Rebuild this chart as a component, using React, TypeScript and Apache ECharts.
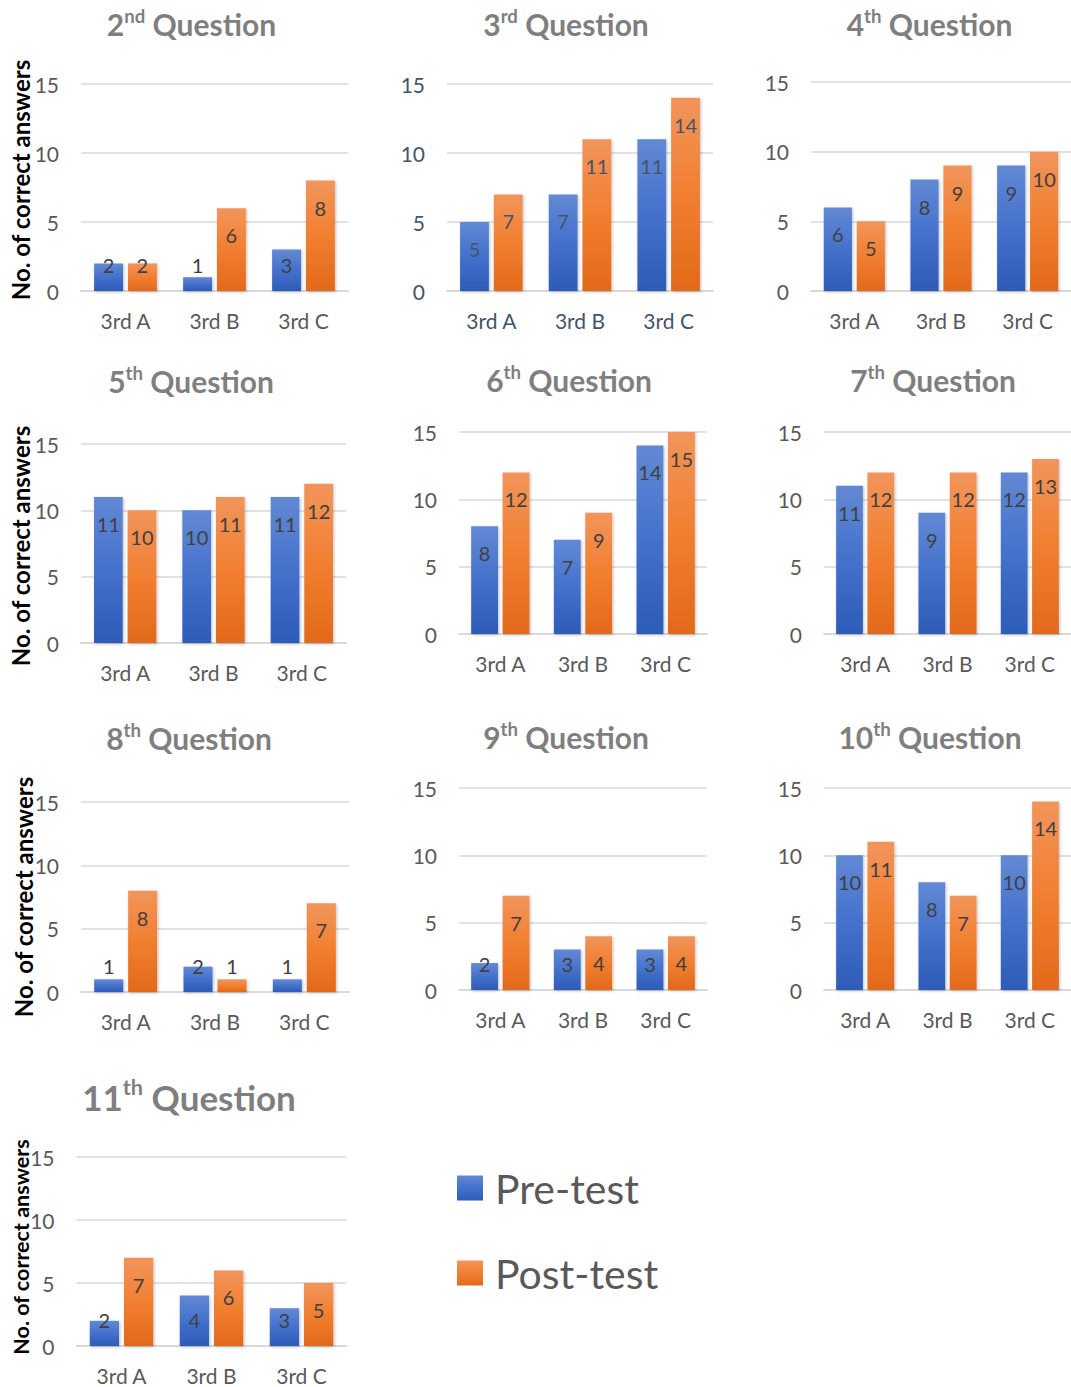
import React, { useEffect, useRef } from 'react';
import * as echarts from 'echarts';

// Classes and the two test rounds
const categories = ['3rd A', '3rd B', '3rd C'];
const seriesNames = ['Pre-test', 'Post-test'];

// Question numbers with their ordinal suffixes
const questionNumbers = [2, 3, 4, 5, 6, 7, 8, 9, 10, 11];
const ordinalSuffixes = ['nd', 'rd', 'th', 'th', 'th', 'th', 'th', 'th', 'th', 'th'];

// Correct answers per class, one row per question
const preTest = [
  [2, 1, 3],
  [5, 7, 11],
  [6, 8, 9],
  [11, 10, 11],
  [8, 7, 14],
  [11, 9, 12],
  [1, 2, 1],
  [2, 3, 3],
  [10, 8, 10],
  [2, 4, 3],
];
const postTest = [
  [2, 6, 8],
  [7, 11, 14],
  [5, 9, 10],
  [10, 11, 12],
  [12, 9, 15],
  [12, 12, 13],
  [8, 1, 7],
  [7, 4, 4],
  [11, 7, 14],
  [7, 6, 5],
];

// Value axis ticks
const yMin = 0;
const yMax = 15;
const yInterval = 5;
const yAxisTitle = 'No. of correct answers';

const FONT = 'Lato, "Open Sans", sans-serif';
const GRAY = '#595959';
const SLATE = '#44546A';

type Panel = {
  left: number;
  right: number;
  top: number;
  bottom: number;
  titleX: number;
  titleY: number;
  titleSize?: number;
  tickColor?: string;
  valueColor?: string;
  yName?: { x: number; y: number; size: number };
};

// Plot boxes of the small multiples
const panels: Panel[] = [
  { left: 81, right: 348, top: 84, bottom: 291, titleX: 191.5, titleY: 24, yName: { x: 20.5, y: 180, size: 24 } },
  { left: 447, right: 713, top: 84, bottom: 291, titleX: 566, titleY: 24, tickColor: SLATE, valueColor: SLATE },
  { left: 811, right: 1081, top: 82, bottom: 291, titleX: 929.5, titleY: 24 },
  { left: 81, right: 346, top: 444, bottom: 643, titleX: 191, titleY: 381, yName: { x: 20.5, y: 546, size: 24 } },
  { left: 459, right: 707, top: 432, bottom: 634, titleX: 569, titleY: 380 },
  { left: 824, right: 1072, top: 432, bottom: 634, titleX: 933, titleY: 380 },
  { left: 81, right: 349, top: 802, bottom: 992, titleX: 189, titleY: 738, yName: { x: 23, y: 897, size: 24 } },
  { left: 459, right: 707, top: 788, bottom: 990, titleX: 566, titleY: 737 },
  { left: 824, right: 1072, top: 788, bottom: 990, titleX: 930, titleY: 737 },
  { left: 76.5, right: 346.5, top: 1157, bottom: 1346, titleX: 189, titleY: 1097, titleSize: 35, yName: { x: 20.5, y: 1247, size: 21.5 } },
];

const blueFill = new echarts.graphic.LinearGradient(0, 0, 0, 1, [
  { offset: 0, color: '#6289D4' },
  { offset: 0.5, color: '#4471CC' },
  { offset: 1, color: '#2D5BB8' },
]);
const orangeFill = new echarts.graphic.LinearGradient(0, 0, 0, 1, [
  { offset: 0, color: '#F2955C' },
  { offset: 0.5, color: '#F17F30' },
  { offset: 1, color: '#E2691A' },
]);

// Value labels sit just inside the bar top; short bars keep them a fixed height above the base
function valueLabel(v: number, pxPerUnit: number) {
  return v * pxPerUnit >= 53
    ? { position: 'insideTop', distance: 17 }
    : { position: 'insideBottom', distance: 16 };
}

function buildOption() {
  const grid: any[] = [];
  const xAxis: any[] = [];
  const yAxis: any[] = [];
  const series: any[] = [];
  const graphic: any[] = [];

  panels.forEach((p, i) => {
    const tickColor = p.tickColor || GRAY;
    const valueColor = p.valueColor || '#404040';
    const pxPerUnit = (p.bottom - p.top) / (yMax - yMin);

    grid.push({ left: p.left, top: p.top, width: p.right - p.left, height: p.bottom - p.top, containLabel: false });
    xAxis.push({
      type: 'category',
      gridIndex: i,
      data: categories,
      axisTick: { show: false },
      axisLine: { lineStyle: { color: '#D9D9D9', width: 2 } },
      axisLabel: { color: tickColor, fontSize: 21, fontFamily: FONT, margin: 19 },
    });
    yAxis.push({
      type: 'value',
      gridIndex: i,
      min: yMin,
      max: yMax,
      interval: yInterval,
      axisLine: { show: false },
      axisTick: { show: false },
      splitLine: { lineStyle: { color: '#D9D9D9', width: 1.5 } },
      axisLabel: { color: tickColor, fontSize: 21, fontFamily: FONT, margin: 22 },
    });

    [preTest[i], postTest[i]].forEach((vals, s) => {
      series.push({
        type: 'bar',
        name: seriesNames[s],
        xAxisIndex: i,
        yAxisIndex: i,
        barWidth: '32.5%',
        barGap: '17%',
        itemStyle: {
          color: s === 0 ? blueFill : orangeFill,
          shadowBlur: 3,
          shadowOffsetX: 1,
          shadowOffsetY: 1,
          shadowColor: 'rgba(0,0,0,0.25)',
        },
        label: { show: true, color: valueColor, fontSize: 20, fontFamily: FONT },
        data: vals.map((v) => ({ value: v, label: valueLabel(v, pxPerUnit) })),
      });
    });

    const size = p.titleSize || 30;
    graphic.push({
      type: 'text',
      x: p.titleX,
      y: p.titleY,
      style: {
        text: `{n|${questionNumbers[i]}}{s|${ordinalSuffixes[i]}}{n| Question}`,
        align: 'center',
        verticalAlign: 'middle',
        textAlign: 'center',
        textVerticalAlign: 'middle',
        rich: {
          n: { fontSize: size, fontWeight: 'bold', fontFamily: FONT, fill: '#7F7F7F', lineHeight: size * 1.2 },
          s: { fontSize: size * 0.62, fontWeight: 'bold', fontFamily: FONT, fill: '#7F7F7F', verticalAlign: 'top', lineHeight: size * 0.75 },
        },
      },
    });

    if (p.yName) {
      graphic.push({
        type: 'text',
        x: p.yName.x,
        y: p.yName.y,
        rotation: Math.PI / 2,
        style: {
          text: yAxisTitle,
          align: 'center',
          verticalAlign: 'middle',
          textAlign: 'center',
          textVerticalAlign: 'middle',
          fontSize: p.yName.size,
          fontWeight: 'bold',
          fontFamily: FONT,
          fill: '#000000',
        },
      });
    }
  });

  return {
    animation: false,
    backgroundColor: '#FFFFFF',
    grid,
    xAxis,
    yAxis,
    series,
    graphic,
    legend: {
      data: seriesNames,
      orient: 'vertical',
      left: 457,
      top: 1163,
      padding: 0,
      icon: 'rect',
      itemWidth: 26,
      itemHeight: 25,
      itemGap: 35,
      textStyle: { fontSize: 41, color: GRAY, fontFamily: FONT, lineHeight: 50, padding: [0, 0, 0, 7] },
    },
  };
}

export default function App() {
  const ref = useRef<HTMLDivElement>(null);
  useEffect(() => {
    if (!ref.current) return;
    const chart = echarts.init(ref.current, null, { renderer: 'svg' });
    chart.setOption(buildOption() as any);
    return () => chart.dispose();
  }, []);
  return (
    <div
      ref={ref}
      style={{ position: 'absolute', left: 0, top: 0, width: 1071, height: 1387, background: '#fff' }}
    />
  );
}
